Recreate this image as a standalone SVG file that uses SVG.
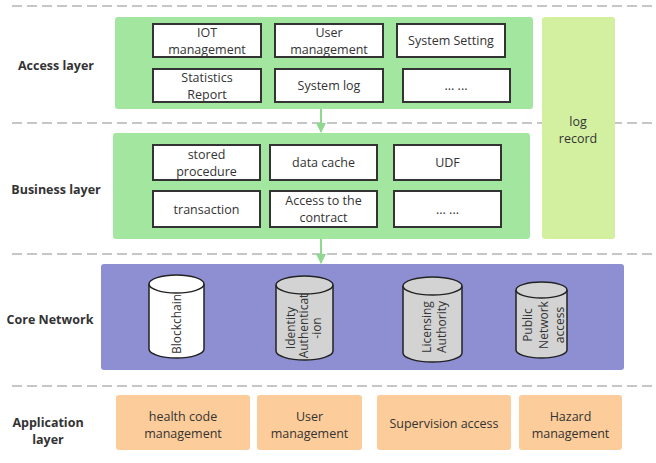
<svg xmlns="http://www.w3.org/2000/svg" width="656" height="463" viewBox="0 0 656 463">
<defs>
<style>
.sep{stroke:#b4b4b4;stroke-width:1.5;stroke-dasharray:10 5;fill:none}
.layer{font-family:"Open Sans","Noto Sans",sans-serif;font-size:12.5px;font-weight:bold;fill:#333;text-anchor:middle}
.t{font-family:"Open Sans","Noto Sans",sans-serif;font-size:12.5px;fill:#333;text-anchor:middle}
.ct{font-family:"Open Sans","Noto Sans",sans-serif;font-size:12px;fill:#333;text-anchor:middle}
.green{fill:#a3e6a0}
.box{fill:#fff;stroke:#333;stroke-width:2}
.app{fill:#fccc9a}
.cyl{stroke:#222;stroke-width:1.5}
.arrow{stroke:#90d890;stroke-width:2;fill:none}
</style>
<marker id="ah" viewBox="0 0 10 10" refX="9" refY="5" markerWidth="5" markerHeight="5" orient="auto" markerUnits="strokeWidth">
<path d="M0,0 L10,5 L0,10 Z" fill="#90d890"/>
</marker>
</defs>
<rect width="656" height="463" fill="#fff"/>
<g id="separators">
<line class="sep" x1="12" y1="6" x2="656" y2="6"/>
<line class="sep" x1="12" y1="123" x2="656" y2="123"/>
<line class="sep" x1="12" y1="254" x2="656" y2="254"/>
<line class="sep" x1="12" y1="386" x2="656" y2="386"/>
</g>
<g id="layer-labels">
<text class="layer" x="56" y="70">Access layer</text>
<text class="layer" x="56" y="193.5">Business layer</text>
<text class="layer" x="50" y="323.5">Core Network</text>
<text class="layer" x="48" y="427">Application</text>
<text class="layer" x="48" y="444">layer</text>
</g>
<g id="log-record">
<rect x="542" y="17" width="73" height="222" rx="3" fill="#d2f0a0"/>
<text class="t" x="578" y="126">log</text>
<text class="t" x="578" y="143">record</text>
</g>
<g id="access-layer">
<rect class="green" x="115" y="17" width="418" height="92" rx="3"/>
<g id="iot"><rect class="box" x="153" y="24" width="108" height="33"/><text class="t" x="207" y="37">IOT</text><text class="t" x="207" y="54">management</text></g>
<g id="user-mgmt"><rect class="box" x="275" y="24" width="108" height="33"/><text class="t" x="329" y="37">User</text><text class="t" x="329" y="54">management</text></g>
<g id="system-setting"><rect class="box" x="397" y="24" width="108" height="33"/><text class="t" x="451" y="45">System Setting</text></g>
<g id="stats"><rect class="box" x="153" y="69" width="108" height="33"/><text class="t" x="207" y="82">Statistics</text><text class="t" x="207" y="99">Report</text></g>
<g id="system-log"><rect class="box" x="275" y="69" width="108" height="33"/><text class="t" x="329" y="90">System log</text></g>
<g id="access-more"><rect class="box" x="403" y="69" width="107" height="33"/><text class="t" x="456" y="90">... ...</text></g>
</g>
<g id="business-layer">
<rect class="green" x="113" y="133" width="417" height="106" rx="3"/>
<g id="stored"><rect class="box" x="153" y="145" width="107" height="35"/><text class="t" x="206.5" y="158.5">stored</text><text class="t" x="206.5" y="175.5">procedure</text></g>
<g id="cache"><rect class="box" x="270" y="145" width="107" height="35"/><text class="t" x="323.5" y="167">data cache</text></g>
<g id="udf"><rect class="box" x="394" y="145" width="107" height="35"/><text class="t" x="447.5" y="167">UDF</text></g>
<g id="transaction"><rect class="box" x="153" y="191" width="107" height="36"/><text class="t" x="206.5" y="213.5">transaction</text></g>
<g id="contract"><rect class="box" x="270" y="191" width="107" height="36"/><text class="t" x="323.5" y="205">Access to the</text><text class="t" x="323.5" y="222">contract</text></g>
<g id="business-more"><rect class="box" x="394" y="191" width="107" height="36"/><text class="t" x="447.5" y="213.5">... ...</text></g>
</g>
<g id="core-network">
<rect x="101" y="264" width="523" height="106" rx="3" fill="#8e8fd3"/>
<g id="blockchain">
<path class="cyl" fill="#fff" d="M149,284 V349 A27.5,9 0 0 0 204,349 V284"/>
<ellipse class="cyl" fill="#fff" cx="176.5" cy="284" rx="27.5" ry="9"/>
<text class="ct" transform="translate(181,324) rotate(-90)">Blockchain</text>
</g>
<g id="identity">
<path class="cyl" fill="#d3d3d3" d="M276,285 V351 A28.5,9 0 0 0 333,351 V285"/>
<text class="ct" transform="translate(295,328) rotate(-90)">Identity</text>
<text class="ct" transform="translate(308,326) rotate(-90)">Authenticat</text>
<text class="ct" transform="translate(321,328) rotate(-90)">-ion</text>
<ellipse class="cyl" fill="#d3d3d3" cx="304.5" cy="285" rx="28.5" ry="9"/>
</g>
<g id="licensing">
<path class="cyl" fill="#d3d3d3" d="M403,286 V353 A29.5,9 0 0 0 462,353 V286"/>
<ellipse class="cyl" fill="#d3d3d3" cx="432.5" cy="286" rx="29.5" ry="9"/>
<text class="ct" transform="translate(431,327) rotate(-90)">Licensing</text>
<text class="ct" transform="translate(446,327) rotate(-90)">Authority</text>
</g>
<g id="public-network">
<path class="cyl" fill="#d3d3d3" d="M516,290 V350 A25.5,8 0 0 0 567,350 V290"/>
<ellipse class="cyl" fill="#d3d3d3" cx="541.5" cy="290" rx="25.5" ry="8"/>
<text class="ct" transform="translate(532,325) rotate(-90)">Public</text>
<text class="ct" transform="translate(548,325) rotate(-90)">Network</text>
<text class="ct" transform="translate(564,325) rotate(-90)">access</text>
</g>
</g>
<g id="application-layer">
<g id="health"><rect class="app" x="116" y="395" width="134" height="55" rx="3"/><text class="t" x="183" y="420.5">health code</text><text class="t" x="183" y="437.5">management</text></g>
<g id="app-user"><rect class="app" x="257" y="395" width="105" height="55" rx="3"/><text class="t" x="309.5" y="420.5">User</text><text class="t" x="309.5" y="437.5">management</text></g>
<g id="supervision"><rect class="app" x="377" y="395" width="134" height="55" rx="3"/><text class="t" x="444" y="428">Supervision access</text></g>
<g id="hazard"><rect class="app" x="519" y="395" width="103" height="55" rx="3"/><text class="t" x="570.5" y="420.5">Hazard</text><text class="t" x="570.5" y="437.5">management</text></g>
</g>
<g id="connectors">
<line class="arrow" x1="321" y1="109" x2="321" y2="132" marker-end="url(#ah)"/>
<line class="arrow" x1="321" y1="239" x2="321" y2="263" marker-end="url(#ah)"/>
</g>
</svg>
